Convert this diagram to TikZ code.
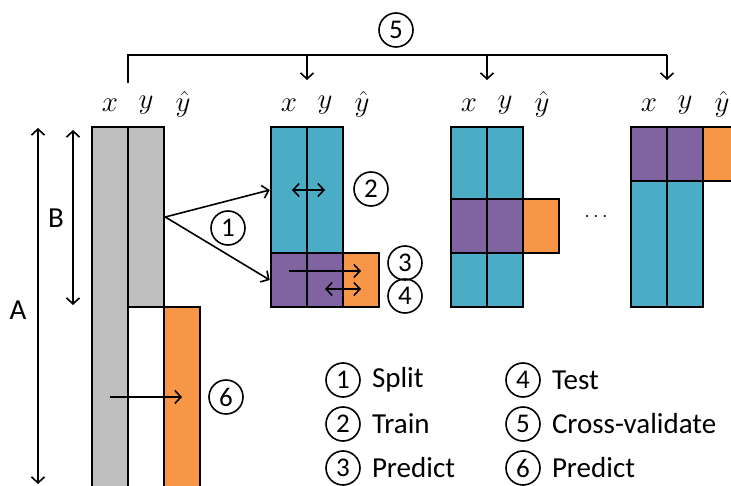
\RequirePackage{fix-cm}
\documentclass[tikz,border=0pt]{standalone}
\usepackage{fontspec}
\setmainfont{Carlito}
\usepackage{tikz}
\usetikzlibrary{positioning,arrows.meta}
\definecolor{datacol}{RGB}{191,191,191}
\definecolor{traincol}{RGB}{75,172,198}
\definecolor{testcol}{RGB}{128,100,162}
\definecolor{predcol}{RGB}{247,150,70}
\tikzset{
  cell/.style={draw=black, line width=2.6pt, inner sep=0pt, minimum width=36pt},
  conn/.style={line width=1.6pt, -{Straight Barb[length=6pt,width=13pt]}},
  dconn/.style={line width=1.6pt, {Straight Barb[length=6pt,width=13pt]}-{Straight Barb[length=6pt,width=13pt]}},
  link/.style={line width=1.6pt},
  num/.style={circle, draw=black, line width=1.6pt, minimum size=34pt, inner sep=0pt,
              font=\fontsize{27}{30}\selectfont},
  key/.style={inner sep=0pt, anchor=west, font=\fontsize{29}{32}\selectfont},
  lbl/.style={inner sep=0pt, font=\fontsize{29}{32}\selectfont},
}

\begin{document}
\begin{tikzpicture}[x=1pt, y=-1pt]
  \clip (0,0) rectangle (731,486);
  % full data set
  \node[cell, fill=datacol, minimum height=380pt] (lx) at (110,317) {};
  \node[cell, fill=datacol, minimum height=180pt] (ly) at (146,217) {};
  \node[cell, fill=predcol, minimum height=200pt] (lp) at (182,407) {};
  % fold 1
  \node[cell, fill=traincol, minimum height=126pt] (b1x) at (289,190) {};
  \node[cell, fill=traincol, minimum height=126pt] (b1y) at (325,190) {};
  \node[cell, fill=testcol, minimum height=54pt] (b1tx) at (289,280) {};
  \node[cell, fill=testcol, minimum height=54pt] (b1ty) at (325,280) {};
  \node[cell, fill=predcol, minimum height=54pt] (b1p) at (361,280) {};
  % fold 2
  \node[cell, fill=traincol, minimum height=72pt] (b2x) at (469,163) {};
  \node[cell, fill=traincol, minimum height=72pt] (b2y) at (505,163) {};
  \node[cell, fill=testcol, minimum height=54pt] (b2tx) at (469,226) {};
  \node[cell, fill=testcol, minimum height=54pt] (b2ty) at (505,226) {};
  \node[cell, fill=predcol, minimum height=54pt] (b2p) at (541,226) {};
  \node[cell, fill=traincol, minimum height=54pt] (b2bx) at (469,280) {};
  \node[cell, fill=traincol, minimum height=54pt] (b2by) at (505,280) {};
  % last fold
  \node[cell, fill=testcol, minimum height=54pt] (b3tx) at (649,154) {};
  \node[cell, fill=testcol, minimum height=54pt] (b3ty) at (685,154) {};
  \node[cell, fill=predcol, minimum height=54pt] (b3p) at (721,154) {};
  \node[cell, fill=traincol, minimum height=126pt] (b3x) at (649,244) {};
  \node[cell, fill=traincol, minimum height=126pt] (b3y) at (685,244) {};
  \node[lbl, font=\fontsize{20}{24}\selectfont] (dots) at (596,217) {$\cdots$};

  % column labels
  \foreach \bx/\nm in {110/0, 289/1, 469/2, 649/3} {
    \node[lbl] (x\nm) at (\bx,105) {$x$};
    \node[lbl] (y\nm) at (\bx+36,105) {$y$};
    \node[lbl] (h\nm) at (\bx+73,104) {$\hat{y}$};
  }

  % sizes A and B
  \coordinate (atop) at (38,128);
  \coordinate (abot) at (38,484);
  \coordinate (btop) at (73,130);
  \coordinate (bbot) at (73,305);
  \draw[dconn] (atop) -- (abot);
  \draw[dconn] (btop) -- (bbot);
  \node[key, anchor=center] (la) at (18,310) {A};
  \node[key, anchor=center] (lb) at (56,218) {B};

  % cross-validation bracket
  \coordinate (c0) at (128,83);
  \coordinate (c1) at (307,80);
  \coordinate (c2) at (487,80);
  \coordinate (c3) at (667,80);
  \coordinate (br) at (667,55);
  \draw[link] (c0) |- (br);
  \foreach \i in {1,2,3}
    \draw[conn] (c\i |- br) -- (c\i);
  \node[num] (n5) at (396,30) {5};

  % split, train, predict, test
  \draw[conn] (ly.east) -- (b1x.west);
  \draw[conn] (ly.east) -- (b1tx.west);
  \node[num] (n1) at (228,228) {1};
  \draw[dconn] ([xshift=3pt]b1x.center) -- (b1y.center);
  \node[num] (n2) at (371,189) {2};
  \draw[conn] ([yshift=9pt]b1tx.center) -- ([yshift=9pt]b1p.center);
  \draw[dconn] ([yshift=-9pt]b1ty.center) -- ([yshift=-9pt]b1p.center);
  \node[num] (n3) at (405,263) {3};
  \node[num] (n4) at (405,296) {4};

  % final prediction
  \node[num] (n6) at (226,397) {6};
  \draw[conn] (lx.center |- n6) -- (lp.center |- n6);

  % legend
  \node[num] (k1) at (343,380) {1};
  \node[num] (k2) at (343,424) {2};
  \node[num] (k3) at (343,468) {3};
  \node[num] (k4) at (523,380) {4};
  \node[num] (k5) at (523,424) {5};
  \node[num] (k6) at (523,468) {6};
  \node[key, right=11pt of k1] (t1) {Split};
  \node[key, right=11pt of k2] (t2) {Train};
  \node[key, right=11pt of k3] (t3) {Predict};
  \node[key, right=11pt of k4] (t4) {Test};
  \node[key, right=11pt of k5] (t5) {Cross-validate};
  \node[key, right=11pt of k6] (t6) {Predict};
\end{tikzpicture}
\end{document}
